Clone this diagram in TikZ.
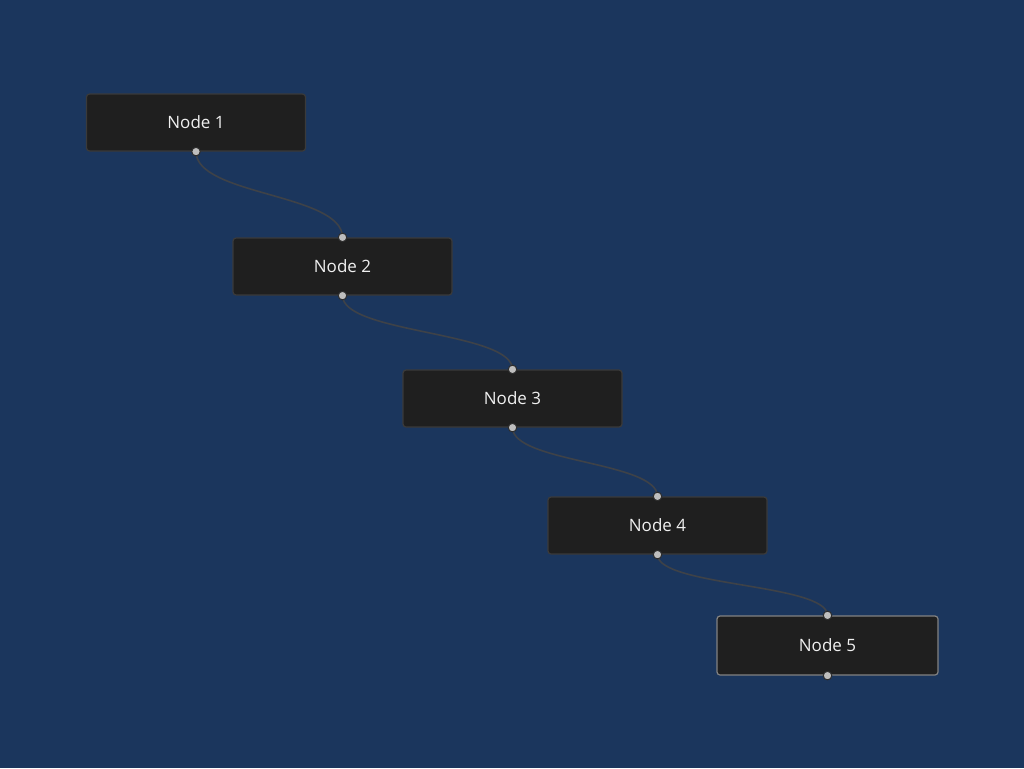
\documentclass[tikz,border=0pt]{standalone}
\usepackage{fontspec}
\setmainfont{Open Sans}
\definecolor{bgc}{RGB}{27,54,93}
\definecolor{nodefill}{RGB}{31,31,31}
\definecolor{nodeborder}{RGB}{58,58,58}
\definecolor{selborder}{RGB}{130,130,130}
\definecolor{edgec}{RGB}{62,66,72}
\definecolor{handlec}{RGB}{190,190,190}
\definecolor{handleb}{RGB}{45,45,45}
\begin{document}
\begin{tikzpicture}[x=1pt,y=-1pt,
  flownode/.style={draw=nodeborder, line width=1.2pt, fill=nodefill, rounded corners=3pt,
    minimum width=219pt, minimum height=57pt, inner sep=0pt, text=white!94!black,
    font=\fontsize{17}{19}\selectfont},
  selnode/.style={flownode, draw=selborder, minimum width=221pt, minimum height=59pt},
  handle/.style={circle, fill=handlec, draw=handleb, line width=1pt, minimum size=8.5pt, inner sep=0pt},
  edge/.style={draw=edgec, line width=1.6pt}]
\fill[bgc] (0,0) rectangle (1024,768);
\useasboundingbox (0,0) rectangle (1024,768);

\node[flownode] (n1) at (196,122.5) {\raisebox{-2.5pt}{Node 1}};
\node[flownode] (n2) at (342.5,266.5) {\raisebox{-2.5pt}{Node 2}};
\node[flownode] (n3) at (512.5,398.5) {\raisebox{-2.5pt}{Node 3}};
\node[flownode] (n4) at (657.5,525.5) {\raisebox{-2.5pt}{Node 4}};
\node[selnode] (n5) at (827.5,645.5) {\raisebox{-2.5pt}{Node 5}};

\draw[edge] (n1.south) .. controls ([yshift=-44pt]n1.south) and ([yshift=44pt]n2.north) .. (n2.north);
\draw[edge] (n2.south) .. controls ([yshift=-38pt]n2.south) and ([yshift=38pt]n3.north) .. (n3.north);
\draw[edge] (n3.south) .. controls ([yshift=-35pt]n3.south) and ([yshift=35pt]n4.north) .. (n4.north);
\draw[edge] (n4.south) .. controls ([yshift=-32pt]n4.south) and ([yshift=32pt]n5.north) .. (n5.north);

\node[handle] (n1b) at (n1.south) {};
\foreach \n in {n2,n3,n4,n5}{
  \node[handle] (\n t) at (\n.north) {};
  \node[handle] (\n b) at (\n.south) {};
}
\end{tikzpicture}
\end{document}
